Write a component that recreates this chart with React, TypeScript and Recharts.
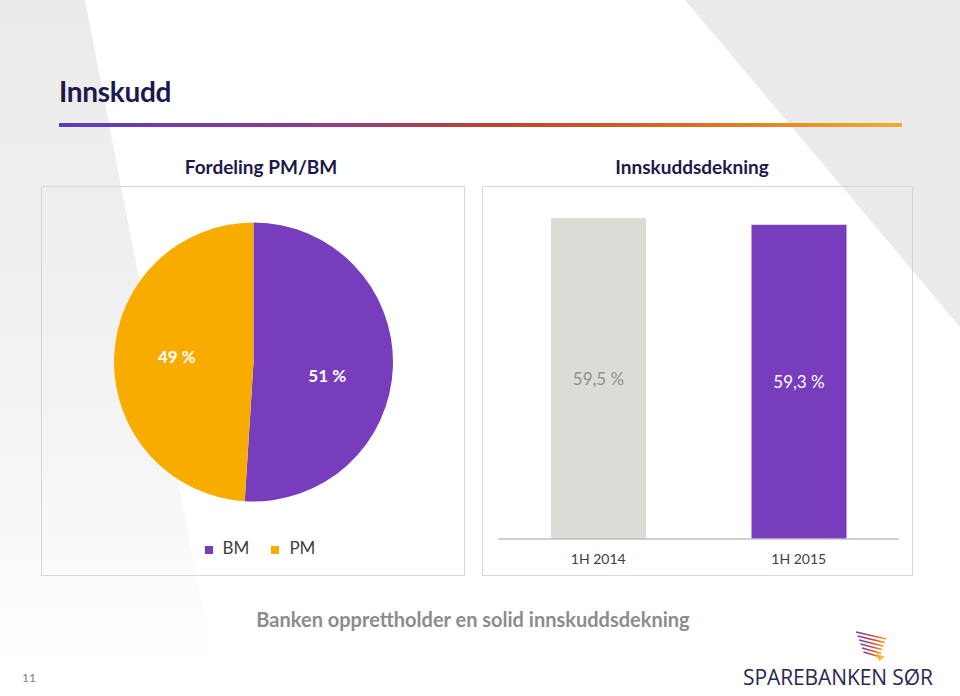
import { PieChart, Pie, Cell, Legend, BarChart, Bar, XAxis, YAxis, LabelList } from 'recharts';

// Fordeling PM/BM
const shareNames = ['BM', 'PM'];
const shareValues = [51, 49];
const shareColors = ['#773dbd', '#f9ac00'];

// Innskuddsdekning
const periods = ['1H 2014', '1H 2015'];
const coverage = [59.5, 59.3];
const coverageColors = ['#dcdcd6', '#773dbd'];
const coverageLabelColors = ['#8f8f8f', '#ffffff'];

// small per-slice label nudge (px), like Excel's best-fit placement
const pieLabelNudge = [{ dx: -3, dy: 11 }, { dx: 0, dy: -3 }];

const FONT = 'Lato, "Open Sans", sans-serif';
const NAVY = '#1c1a4b';

const pieData = shareNames.map((name, i) => ({ name, value: shareValues[i] }));
const barData = periods.map((period, i) => ({ period, value: coverage[i] }));

const fmt = (v: number) => `${v.toFixed(1).replace('.', ',')} %`;

const RAD = Math.PI / 180;

const PieLabel = (props: any) => {
  const { cx, cy, midAngle, outerRadius, value, index } = props;
  const r = outerRadius * 0.55;
  const x = cx + r * Math.cos(-midAngle * RAD) + pieLabelNudge[index].dx;
  const y = cy + r * Math.sin(-midAngle * RAD) + pieLabelNudge[index].dy;
  return (
    <text x={x} y={y} fill="#ffffff" textAnchor="middle" dominantBaseline="central"
      fontFamily={FONT} fontWeight={700} fontSize={17}>
      {value} %
    </text>
  );
};

const BarValue = (props: any) => {
  const { x, y, width, height, value, index } = props;
  return (
    <text x={x + width / 2} y={y + height / 2} fill={coverageLabelColors[index]} textAnchor="middle"
      dominantBaseline="central" fontFamily={FONT} fontSize={17}>
      {fmt(value)}
    </text>
  );
};

const Background = () => (
  <svg width={960} height={696} style={{ position: 'absolute', left: 0, top: 0 }}>
    <defs>
      <linearGradient id="fadeLeft" x1="0" y1="0" x2="0" y2="1">
        <stop offset="0" stopColor="#ebebeb" />
        <stop offset="0.55" stopColor="#f2f2f2" />
        <stop offset="0.95" stopColor="#ffffff" />
      </linearGradient>
    </defs>
    <rect width={960} height={696} fill="#ffffff" />
    <polygon points="0,0 85,0 220,696 0,696" fill="url(#fadeLeft)" />
    <polygon points="685,0 960,0 960,327" fill="#ebebeb" />
  </svg>
);

const LogoMark = () => (
  <svg width={40} height={34} style={{ position: 'absolute', left: 854, top: 629 }}>
    <defs>
      <linearGradient id="lg" x1="0" y1="0" x2="0" y2="1">
        <stop offset="0" stopColor="#6a3fb8" />
        <stop offset="0.55" stopColor="#d0483a" />
        <stop offset="1" stopColor="#f7ad1e" />
      </linearGradient>
    </defs>
    {[0, 1, 2, 3, 4, 5].map((i) => (
      <line key={i} x1={2 + i * 1.5} y1={3 + i * 4} x2={32 - i * 1.2} y2={10 + i * 3.6}
        stroke="url(#lg)" strokeWidth={1.6} />
    ))}
    <polygon points="22,24 31,28 25,32" fill="#f7ad1e" opacity={0.8} />
  </svg>
);

const boxStyle = (left: number, width: number): React.CSSProperties => ({
  position: 'absolute', left, top: 186, width, height: 390,
  border: '1px solid #d6d6d6', boxSizing: 'border-box',
});

const App = () => {
  return (
    <div style={{ position: 'absolute', left: 0, top: 0, width: 960, height: 696, overflow: 'hidden', fontFamily: FONT }}>
      <Background />

      <div style={{ position: 'absolute', left: 59, top: 74, fontSize: 28, fontWeight: 700, color: NAVY, letterSpacing: -0.3 }}>
        Innskudd
      </div>
      <div style={{
        position: 'absolute', left: 59, top: 123, width: 843, height: 4,
        background: 'linear-gradient(90deg, #5a3cc8 0%, #8b3c92 28%, #c0412f 52%, #d9661d 72%, #f6ad2a 100%)',
      }} />

      <div style={{ position: 'absolute', left: 41, width: 440, top: 155, textAlign: 'center', fontSize: 19, fontWeight: 700, color: NAVY }}>
        Fordeling PM/BM
      </div>
      <div style={{ position: 'absolute', left: 482, width: 420, top: 155, textAlign: 'center', fontSize: 19, fontWeight: 700, color: NAVY }}>
        Innskuddsdekning
      </div>

      <div style={boxStyle(41, 424)}>
        <PieChart width={424} height={390} margin={{ top: 0, right: 0, bottom: 0, left: 0 }}>
          <Pie data={pieData} dataKey="value" nameKey="name" cx={211.5} cy={175} outerRadius={139.5}
            startAngle={90} endAngle={-270} stroke="none" label={PieLabel} labelLine={false}
            isAnimationActive={false}>
            {pieData.map((d, i) => <Cell key={d.name} fill={shareColors[i]} />)}
          </Pie>
          <Legend layout="horizontal" align="center" verticalAlign="middle" iconType="square" iconSize={8}
            wrapperStyle={{ top: 350, left: 17 }}
            formatter={(value: string) => (
              <span style={{ color: '#404040', fontSize: 17, fontFamily: FONT, marginLeft: 6, marginRight: 12 }}>{value}</span>
            )} />
        </PieChart>
      </div>

      <div style={boxStyle(482, 431)}>
        <BarChart width={431} height={390} data={barData} margin={{ top: 14, right: 15, bottom: 0, left: 15 }}>
          <XAxis dataKey="period" height={38} axisLine={{ stroke: '#bfbfbf', strokeWidth: 1.5 }} tickLine={false}
            tickSize={0} tickMargin={15} tick={{ fill: '#404040', fontSize: 14, fontFamily: FONT }} />
          <YAxis hide domain={[50, 60]} allowDataOverflow />
          <Bar dataKey="value" barSize={95} isAnimationActive={false}>
            {barData.map((d, i) => <Cell key={d.period} fill={coverageColors[i]} />)}
            <LabelList dataKey="value" content={BarValue} />
          </Bar>
        </BarChart>
      </div>

      <div style={{ position: 'absolute', left: 0, width: 946, top: 607, textAlign: 'center', fontSize: 20, fontWeight: 700, color: '#8c8c8c' }}>
        Banken opprettholder en solid innskuddsdekning
      </div>

      <LogoMark />
      <div style={{ position: 'absolute', left: 743, top: 663, fontSize: 21, color: '#2a2950', letterSpacing: -0.1, fontFamily: '"Open Sans", sans-serif' }}>
        SPAREBANKEN SØR
      </div>
      <div style={{ position: 'absolute', left: 22, top: 670, fontSize: 12, color: '#7f7f7f' }}>11</div>
    </div>
  );
};

export default App;
